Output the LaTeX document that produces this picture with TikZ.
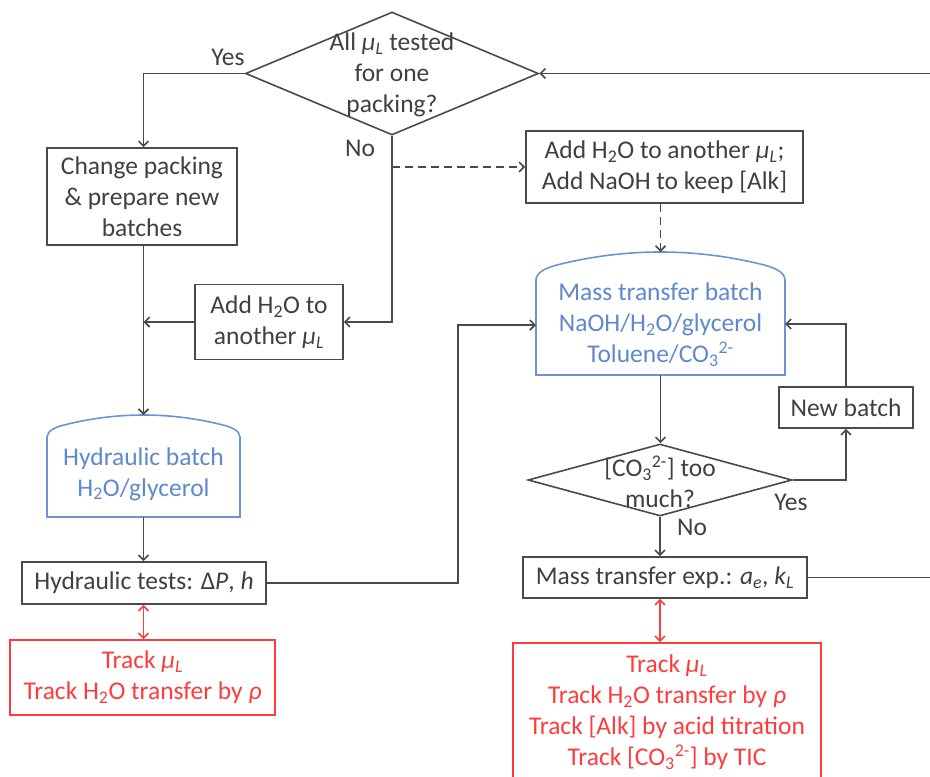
\documentclass[tikz,border=0pt]{standalone}
\usepackage{fontspec}
\setmainfont{Carlito}
\usetikzlibrary{arrows.meta,shapes.geometric}

\definecolor{ink}{HTML}{404040}
\definecolor{linegray}{HTML}{4A4A4A}
\definecolor{batchblue}{HTML}{6C93D3}
\definecolor{batchtext}{HTML}{5F89CC}
\definecolor{trackred}{HTML}{FF3C3C}

\newcommand\muL{\textit{μ}\textsubscript{\textit{L}}}

\tikzset{
  every node/.style={font=\fontsize{25.5}{31}\selectfont, text=ink, inner sep=0pt, align=center},
  stepbox/.style={draw=linegray, line width=1.6pt},
  decision/.style={draw=linegray, line width=1.6pt, diamond, inner sep=0pt},
  trackbox/.style={draw=trackred, line width=1.6pt, text=trackred},
  batchline/.style={draw=batchblue, line width=1.6pt},
  flow/.style={draw=linegray, line width=1.6pt, -{Straight Barb[length=5pt,width=10pt]}},
  dashflow/.style={flow, dash pattern=on 8pt off 5pt},
  trackflow/.style={draw=trackred, line width=1.6pt,
    {Straight Barb[length=5pt,width=10pt]}-{Straight Barb[length=5pt,width=10pt]}},
  tag/.style={font=\fontsize{25.5}{31}\selectfont}
}

\begin{document}
\begin{tikzpicture}[x=1pt, y=-1pt]
\useasboundingbox (0,0) rectangle (930,777);
\clip (0,0) rectangle (930,777);
\fill[white] (0,0) rectangle (930,777);

% ---- decisions ----
\node[decision, minimum width=293pt, minimum height=123pt] (dia1) at (392,73.5) {};
\node (dia1t) at (392,75) {All \muL{} tested\\for one\\packing?};

\node[decision, minimum width=264pt, minimum height=72pt] (dia2) at (660,480) {};
\node (dia2t) at (660,482) {[CO\textsubscript{3}\textsuperscript{2-}] too\\much?};

% ---- process boxes ----
\node[stepbox, minimum width=190pt, minimum height=97pt] (chg) at (142,196.5)
  {Change packing\\\&\ prepare new\\batches};
\node[stepbox, minimum width=148pt, minimum height=75pt] (addw) at (269,322)
  {Add H\textsubscript{2}O to\\another \muL};
\node[stepbox, minimum width=277pt, minimum height=72pt] (ntop) at (664.5,167)
  {Add H\textsubscript{2}O to another \muL;\\Add NaOH to keep [Alk]};
\node[stepbox, minimum width=134pt, minimum height=41pt] (nb) at (846,407.5) {New batch};
\node[stepbox, minimum width=284pt, minimum height=41pt] (mte) at (665,577.5)
  {Mass transfer exp.: \textit{a}\textsubscript{\textit{e}}, \textit{k}\textsubscript{\textit{L}}};
\node[stepbox, minimum width=244pt, minimum height=42pt] (ht) at (144,583)
  {Hydraulic tests: Δ\textit{P}, \textit{h}};

% ---- tracking boxes ----
\node[trackbox, minimum width=265pt, minimum height=75pt] (r1) at (142.5,677.5)
  {Track \muL\\Track H\textsubscript{2}O transfer by \textit{ρ}};
\node[trackbox, minimum width=308pt, minimum height=138pt] (r2) at (667,712)
  {Track \textit{μ}\textsubscript{\textit{L}}\\Track H\textsubscript{2}O transfer by \textit{ρ}\\Track [Alk] by acid titration\\Track [CO\textsubscript{3}\textsuperscript{2-}] by TIC};

% ---- batch vessels (arched top) ----
\draw[batchline] (47,517) -- (47,437)
  .. controls (47,430.4) and (56.7,426.8) .. (64.4,424.9)
  .. controls (90.8,418.3) and (117.1,415) .. (143.5,415)
  .. controls (169.9,415) and (196.2,418.3) .. (222.6,424.9)
  .. controls (230.3,426.8) and (240,430.4) .. (240,437)
  -- (240,517) -- cycle;
\node[text=batchtext] (hb) at (143.5,474) {Hydraulic batch\\H\textsubscript{2}O/glycerol};
\coordinate (hbTop) at (143.5,415);
\coordinate (hbBot) at (143.5,517);

\draw[batchline] (536,375) -- (536,280)
  .. controls (536,271.6) and (548.4,267.1) .. (558.4,264.6)
  .. controls (592.4,256.2) and (626.5,252) .. (660.5,252)
  .. controls (694.5,252) and (728.6,256.2) .. (762.6,264.6)
  .. controls (772.6,267.1) and (785,271.6) .. (785,280)
  -- (785,375) -- cycle;
\node[text=batchtext] (mtb) at (660.5,325)
  {Mass transfer batch\\NaOH/H\textsubscript{2}O/glycerol\\Toluene/CO\textsubscript{3}\textsuperscript{2-}};
\coordinate (mtbTop) at (660.5,252);
\coordinate (mtbBot) at (660.5,375);
\coordinate (mtbL) at (536,325);
\coordinate (mtbR) at (785,324);

% ---- routing helpers ----
\coordinate (hx) at (458,0);
\coordinate (rim) at (945,0);

% ---- connectors ----
\draw[flow] (dia1.west) -| (chg.north -| hbTop);
\draw[flow] (dia1.south) |- (addw.east);
\draw[dashflow] (dia1.south |- ntop.west) -- (ntop.west);
\draw[dashflow] (ntop.south -| mtbTop) -- (mtbTop);
\draw[flow] (chg.south -| hbTop) -- (hbTop);
\draw[flow] (addw.west) -- (addw.west -| hbTop);
\draw[flow] (hbBot) -- (hbBot |- ht.north);
\draw[trackflow] (ht.south -| hbTop) -- (r1.north -| hbTop);
\draw[flow] (ht.east) -- (ht.east -| hx) |- (mtbL);
\draw[flow] (mtbBot) -- (mtbBot |- dia2.north);
\draw[flow] (dia2.east) -| (nb.south);
\draw[flow] (nb.north) |- (mtbR);
\draw[flow] (dia2.south) -- (dia2.south |- mte.north);
\draw[trackflow] (mte.south -| dia2.south) -- (r2.north -| dia2.south);
\draw[flow] (mte.east) -- (mte.east -| rim) -- (rim |- dia1.east) -- (dia1.east);

% ---- branch labels ----
\node[tag] (yes1) at (228,57) {Yes};
\node[tag] (no1) at (360,148) {No};
\node[tag] (yes2) at (791,502) {Yes};
\node[tag] (no2) at (692,527) {No};
\end{tikzpicture}
\end{document}
